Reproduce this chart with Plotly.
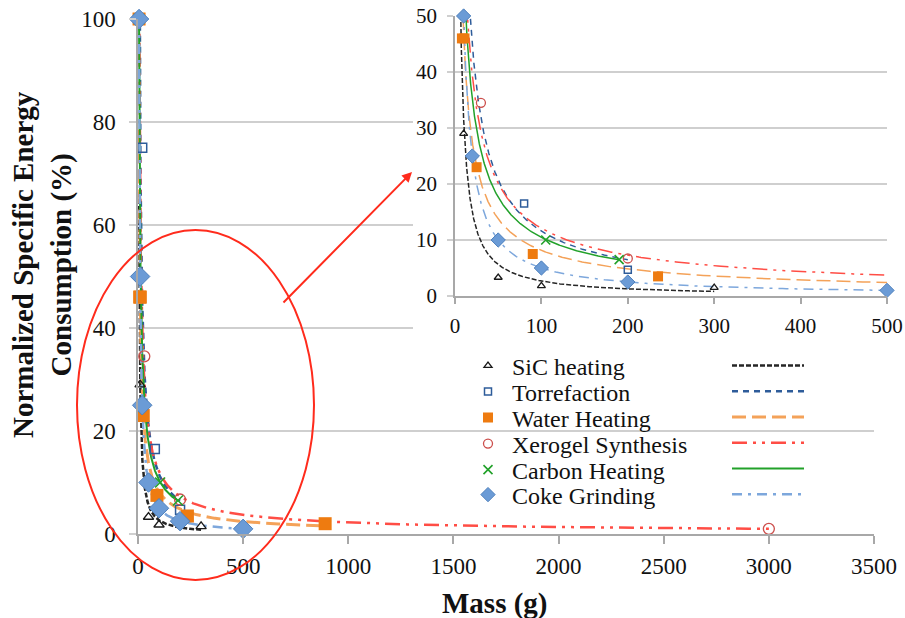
import numpy as np
import plotly.graph_objects as go

# ---------------- data ----------------
series_names = ["SiC heating", "Torrefaction", "Water Heating",
                "Xerogel Synthesis", "Carbon Heating", "Coke Grinding"]

sic_mass = [5, 10, 50, 100, 300]
sic_energy = [100, 29, 3.3, 1.8, 1.5]

torr_mass = [5, 20, 80, 200]
torr_energy = [100, 75, 16.5, 4.7]

water_mass = [5, 8, 11, 25, 90, 235, 890]
water_energy = [100, 46, 46, 23, 7.5, 3.5, 2]

xero_mass = [5, 30, 200, 3000]
xero_energy = [100, 34.5, 6.7, 1]

carbon_mass = [5, 105, 190]
carbon_energy = [100, 10, 6.5]

coke_mass = [5, 10, 20, 50, 100, 200, 500]
coke_energy = [100, 50, 25, 10, 5, 2.5, 1]

main_x_ticks = [0, 500, 1000, 1500, 2000, 2500, 3000, 3500]
main_y_ticks = [0, 20, 40, 60, 80, 100]
inset_x_ticks = [0, 100, 200, 300, 400, 500]
inset_y_ticks = [0, 10, 20, 30, 40, 50]

masses = [sic_mass, torr_mass, water_mass, xero_mass, carbon_mass, coke_mass]
energies = [sic_energy, torr_energy, water_energy, xero_energy, carbon_energy, coke_energy]

# ---------------- styles ----------------
W, H = 905, 618
SERIF = "Liberation Serif"

marker_styles = [
    dict(symbol="triangle-up-open", color="#1a1a1a", lw=1.3, main=9, inset=7),
    dict(symbol="square-open", color="#2e5c9a", lw=1.5, main=9, inset=7),
    dict(symbol="square", color="#ee7b10", lw=0, main=13, inset=10),
    dict(symbol="circle-open", color="#cc4f4c", lw=1.3, main=11, inset=9),
    dict(symbol="x-thin", color="#22a12a", lw=1.6, main=10, inset=9),
    dict(symbol="diamond", color="#6b9bd6", lw=1, main=15, inset=11),
]
line_styles = [
    dict(color="#262626", dash="5px,2px", main=2.5, inset=1.5),
    dict(color="#2e5c9a", dash="6px,5px", main=2.5, inset=1.5),
    dict(color="#f4a259", dash="14px,6px", main=3, inset=1.5),
    dict(color="#ff4d45", dash="15px,6px,3px,6px,3px,6px", main=2.5, inset=1.5),
    dict(color="#22a12a", dash="solid", main=2, inset=1.5),
    dict(color="#7da7dc", dash="10px,6px,3px,6px", main=2.5, inset=1.5),
]

fig = go.Figure()


def power_fit(x, y):
    lx, ly = np.log(np.asarray(x, float)), np.log(np.asarray(y, float))
    b, a = np.polyfit(lx, ly, 1)
    return a, b


# --- trendlines (power fits of each series), main plot ---
fits = []
for i, (mx, ey) in enumerate(zip(masses, energies)):
    a, b = power_fit(mx, ey)
    fits.append((a, b))
    xs = np.geomspace(min(mx), max(mx), 400)
    ys = np.exp(a) * xs ** b
    ls = line_styles[i]
    fig.add_trace(go.Scatter(
        x=xs, y=ys, mode="lines", name=" ", legend="legend",
        line=dict(color=ls["color"], dash=ls["dash"], width=ls["main"]),
        hoverinfo="skip", xaxis="x", yaxis="y"))

# --- data markers, main plot ---
for i, (mx, ey) in enumerate(zip(masses, energies)):
    ms = marker_styles[i]
    mk = dict(symbol=ms["symbol"], size=ms["main"], color=ms["color"],
              line=dict(width=ms["lw"], color=ms["color"] if ms["symbol"] != "diamond" else "#4f81bd"))
    fig.add_trace(go.Scatter(
        x=mx, y=ey, mode="markers", marker=mk, showlegend=False,
        cliponaxis=False, name=series_names[i], xaxis="x", yaxis="y"))

# --- blank subplot that masks the main grid behind the inset ---
fig.add_trace(go.Scatter(x=[], y=[], xaxis="x2", yaxis="y2", showlegend=False))

# --- inset: trendlines ---
for i, (mx, ey) in enumerate(zip(masses, energies)):
    a, b = fits[i]
    xs = np.geomspace(min(mx), min(max(mx), inset_x_ticks[-1]), 400)
    ys = np.exp(a) * xs ** b
    ls = line_styles[i]
    fig.add_trace(go.Scatter(
        x=xs, y=ys, mode="lines", showlegend=False,
        line=dict(color=ls["color"], dash=ls["dash"], width=ls["inset"]),
        hoverinfo="skip", xaxis="x3", yaxis="y3"))

# --- inset: data markers (only those inside the inset ranges) ---
for i, (mx, ey) in enumerate(zip(masses, energies)):
    pts = [(x, y) for x, y in zip(mx, ey)
           if x <= inset_x_ticks[-1] and y <= inset_y_ticks[-1]]
    ms = marker_styles[i]
    mk = dict(symbol=ms["symbol"], size=ms["inset"], color=ms["color"],
              line=dict(width=ms["lw"], color=ms["color"] if ms["symbol"] != "diamond" else "#4f81bd"))
    fig.add_trace(go.Scatter(
        x=[p[0] for p in pts], y=[p[1] for p in pts], mode="markers",
        marker=mk, name=series_names[i], legend="legend%d" % (i + 2),
        cliponaxis=False, xaxis="x3", yaxis="y3"))


def px_x(p):
    return p / W


def px_y(p):
    return (H - p) / H


tick_font_main = dict(family=SERIF, size=23, color="#111111")
tick_font_inset = dict(family=SERIF, size=21, color="#111111")
GRID = "#cfcfcf"
AXIS = "#a8a8a8"

layout = dict(
    width=W, height=H,
    margin=dict(l=0, r=0, t=0, b=0, pad=0, autoexpand=False),
    paper_bgcolor="white", plot_bgcolor="white",
    font=dict(family=SERIF, color="#111111"),
    xaxis=dict(domain=[px_x(138), px_x(874)], range=[0, 3500],
               tickvals=main_x_ticks, ticks="outside", ticklen=8, tickwidth=1.5,
               tickcolor=AXIS, showline=True, linecolor=AXIS, linewidth=1.5,
               showgrid=False, zeroline=False, tickfont=tick_font_main,
               ticklabelstandoff=3, anchor="y"),
    yaxis=dict(domain=[px_y(534), px_y(19)], range=[0, 100],
               tickvals=main_y_ticks, ticks="outside", ticklen=7, tickwidth=1.5,
               tickcolor=GRID, showline=True, linecolor=AXIS, linewidth=1.5,
               showgrid=True, gridcolor=GRID, gridwidth=2, zeroline=False,
               tickfont=tick_font_main, ticklabelstandoff=9, anchor="x"),
    xaxis2=dict(domain=[px_x(413), 1.0], range=[0, 1], visible=False, anchor="y2"),
    yaxis2=dict(domain=[px_y(345), 1.0], range=[0, 1], visible=False, anchor="x2"),
    xaxis3=dict(domain=[px_x(455), px_x(887)], range=[0, 500],
                tickvals=inset_x_ticks, ticks="outside", ticklen=6, tickwidth=1.5,
                tickcolor=AXIS, showline=True, linecolor=AXIS, linewidth=1.5,
                showgrid=False, zeroline=False, tickfont=tick_font_inset,
                ticklabelstandoff=4, anchor="y3"),
    yaxis3=dict(domain=[px_y(296), px_y(16)], range=[0, 50],
                tickvals=inset_y_ticks, ticks="outside", ticklen=6, tickwidth=1.5,
                tickcolor=GRID, showline=True, linecolor=AXIS, linewidth=1.5,
                showgrid=True, gridcolor=GRID, gridwidth=2, zeroline=False,
                tickfont=tick_font_inset, ticklabelstandoff=6, anchor="x3"),
    legend=dict(x=px_x(727), y=px_y(430), xanchor="left", yanchor="middle",
                bgcolor="rgba(0,0,0,0)", itemwidth=72,
                font=dict(family=SERIF, size=17.5), tracegroupgap=0),
)
row_y = [366, 392, 418, 444, 470, 495]
for i in range(6):
    layout["legend%d" % (i + 2)] = dict(
        x=px_x(464), y=px_y(row_y[i]), xanchor="left", yanchor="middle",
        bgcolor="rgba(0,0,0,0)", itemwidth=38,
        font=dict(family=SERIF, size=24, color="#111111"))

fig.update_layout(**layout)

RED = "#ff2b1c"
fig.add_shape(type="circle", xref="paper", yref="paper",
              x0=px_x(77), x1=px_x(314), y0=px_y(580), y1=px_y(230),
              line=dict(color=RED, width=2), layer="above")
fig.add_annotation(xref="paper", yref="paper", x=px_x(412), y=px_y(172),
                   text="", showarrow=True, ax=-130, ay=132,
                   arrowhead=2, arrowsize=1, arrowwidth=2, arrowcolor=RED, standoff=0)
fig.add_annotation(xref="paper", yref="paper", x=px_x(42), y=px_y(265),
                   text="<b>Normalized Specific Energy<br>Consumption (%)</b>",
                   textangle=-90, showarrow=False, xanchor="center", yanchor="middle",
                   font=dict(family=SERIF, size=29, color="#111111"))
fig.add_annotation(xref="paper", yref="paper", x=px_x(495), y=px_y(603),
                   text="<b>Mass (g)</b>", showarrow=False,
                   xanchor="center", yanchor="middle",
                   font=dict(family=SERIF, size=29, color="#111111"))

fig.write_html("out.html", config={"displayModeBar": False},
               post_script="document.body.style.margin='0';document.body.style.overflow='hidden';")
